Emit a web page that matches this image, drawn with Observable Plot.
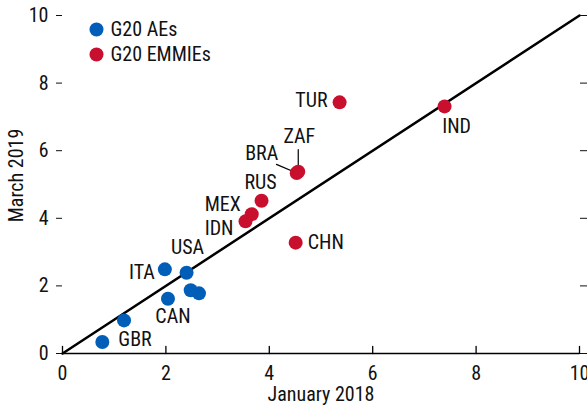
<!DOCTYPE html>
<html>
<head>
<meta charset="utf-8">
<script src="https://cdn.jsdelivr.net/npm/d3@7"></script>
<script src="https://cdn.jsdelivr.net/npm/@observablehq/plot@0.6"></script>
<style>
  html, body { margin: 0; padding: 0; background: #fff; }
  #chart svg { display: block; }
</style>
</head>
<body>
<div id="chart"></div>
<script>
// ---- data ----
const countries = ["GBR", "AUS", "ITA", "USA", "CAN", "DEU", "FRA", "IDN", "MEX", "RUS", "BRA", "ZAF", "TUR", "IND", "CHN"];
const groups    = ["G20 AEs", "G20 AEs", "G20 AEs", "G20 AEs", "G20 AEs", "G20 AEs", "G20 AEs",
                   "G20 EMMIEs", "G20 EMMIEs", "G20 EMMIEs", "G20 EMMIEs", "G20 EMMIEs", "G20 EMMIEs", "G20 EMMIEs", "G20 EMMIEs"];
const jan2018   = [0.77, 1.19, 1.98, 2.40, 2.04, 2.48, 2.64, 3.54, 3.66, 3.85, 4.53, 4.56, 5.36, 7.39, 4.51];
const mar2019   = [0.34, 0.98, 2.49, 2.39, 1.62, 1.87, 1.78, 3.91, 4.12, 4.52, 5.34, 5.38, 7.43, 7.31, 3.28];
const showLabel = [true, false, true, true, true, false, false, true, true, true, true, true, true, true, true];
const xTicks = [0, 2, 4, 6, 8, 10];
const yTicks = [0, 2, 4, 6, 8, 10];
const legendGroups = ["G20 AEs", "G20 EMMIEs"];
const xTitle = "January 2018";
const yTitle = "March 2019";

// ---- style / layout ----
const colors = ["#005eb8", "#c8102e"];
const FONT = "'Roboto Condensed', 'Liberation Sans Narrow', 'Arial Narrow', sans-serif";
const FS = 20;
// label placement per country (pixels)
const labelPos = {
  GBR: {dx: 16, dy: -2, anchor: "start"},
  ITA: {dx: -10, dy: 3, anchor: "end"},
  USA: {dx: 1, dy: -25, anchor: "middle"},
  CAN: {dx: 5, dy: 18, anchor: "middle"},
  IDN: {dx: -12, dy: 7, anchor: "end"},
  MEX: {dx: -11, dy: -10, anchor: "end"},
  RUS: {dx: -1, dy: -18, anchor: "middle"},
  BRA: {dx: -35, dy: -19, anchor: "middle"},
  ZAF: {dx: 1, dy: -35, anchor: "middle"},
  TUR: {dx: -12, dy: -2, anchor: "end"},
  IND: {dx: 12, dy: 20, anchor: "middle"},
  CHN: {dx: 12, dy: 0, anchor: "start"}
};
const leaderRotate = {BRA: -67, ZAF: 0};
const LEADER_LEN = 22;

const data = countries.map((c, i) => ({country: c, group: groups[i], x: jan2018[i], y: mar2019[i], show: showLabel[i]}));
const labelled = data.filter(d => d.show);
const leaderData = data.filter(d => d.country in leaderRotate);

const lineShape = {draw(context, l) { context.moveTo(0, 0); context.lineTo(0, -l); }};

const legendMarks = legendGroups.flatMap((g, i) => [
  Plot.dot([g], {frameAnchor: "top-left", dx: 34, dy: 14 + 25 * i, r: 7, fill: d => d}),
  Plot.text([g], {frameAnchor: "top-left", dx: 48, dy: 14 + 25 * i, text: d => d, textAnchor: "start", lineAnchor: "middle", fontSize: FS, fill: "#111"})
]);

const marks = [
  // bottom axis line
  Plot.ruleY([0], {stroke: "#000", strokeWidth: 1.5}),
  // x ticks pointing up
  Plot.vector(xTicks, {x: d => d, y: 0, length: 7, rotate: 0, anchor: "start", shape: lineShape, stroke: "#000", strokeWidth: 1.3}),
  // 45-degree line
  Plot.line([{a: 0, b: 0}, {a: 10, b: 10}], {x: "a", y: "b", stroke: "#000", strokeWidth: 2.5}),
  // leader lines
  Plot.vector(leaderData, {x: "x", y: "y", length: LEADER_LEN, rotate: d => leaderRotate[d.country], anchor: "start", shape: lineShape, stroke: "#000", strokeWidth: 1.2}),
  // points
  Plot.dot(data, {x: "x", y: "y", r: 7, fill: "group", stroke: "none"}),
  // country labels
  ...Object.entries(labelPos).map(([c, p]) =>
    Plot.text(labelled.filter(d => d.country === c), {x: "x", y: "y", text: "country", dx: p.dx, dy: p.dy, textAnchor: p.anchor, fontSize: FS, fill: "#111"})
  ),
  // axis titles
  Plot.text([xTitle], {frameAnchor: "bottom", dy: 41, lineAnchor: "middle", text: d => d, fontSize: FS, fill: "#111"}),
  Plot.text([yTitle], {frameAnchor: "left", dx: -46, dy: -9, rotate: -90, textAnchor: "middle", lineAnchor: "middle", text: d => d, fontSize: FS, fill: "#111"}),
  // axes
  Plot.axisX({ticks: xTicks, tickSize: 0, tickPadding: 12, fontSize: FS, label: null}),
  Plot.axisY({ticks: yTicks, tickSize: 6, tickPadding: 8, fontSize: FS, label: null}),
  Plot.axisY({anchor: "right", ticks: yTicks, tickSize: 7, tickFormat: () => "", label: null}),
  ...legendMarks
];

const chart = Plot.plot({
  width: 587,
  height: 406,
  marginLeft: 62,
  marginRight: 8,
  marginTop: 15,
  marginBottom: 53,
  style: {fontFamily: FONT, fontSize: FS + "px", background: "#fff", color: "#111"},
  x: {domain: [0, 10], axis: null},
  y: {domain: [0, 10], axis: null},
  color: {domain: legendGroups, range: colors},
  marks
});
document.getElementById("chart").appendChild(chart);
</script>
</body>
</html>
